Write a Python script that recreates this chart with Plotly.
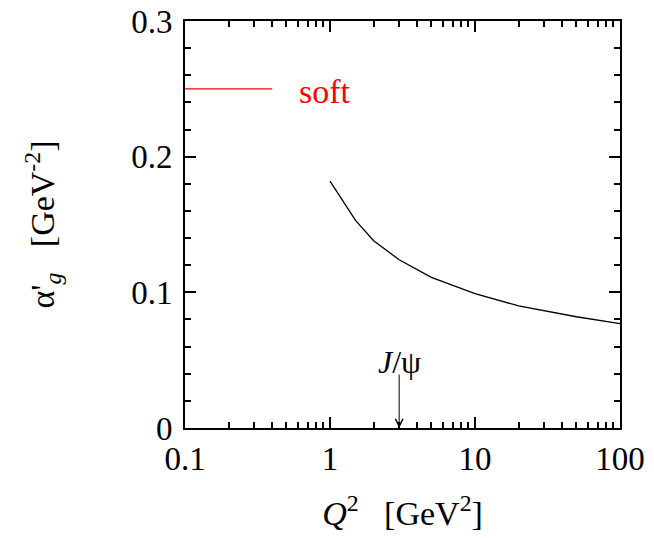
import math
import plotly.graph_objects as go

# Data
q2 = [1, 1.5, 2, 3, 5, 10, 20, 50, 100]
alpha_g = [0.182, 0.153, 0.138, 0.124, 0.111, 0.099, 0.090, 0.082, 0.077]
soft_x = [0.1, 0.4]
soft_y = [0.25, 0.25]
soft_label = "soft"
jpsi_q2 = 3
jpsi_label = "<i>J</i>/ψ"
x_ticks = [0.1, 1, 10, 100]
x_ticktext = ["0.1", "1", "10", "100"]
y_ticks = [0, 0.1, 0.2, 0.3]
y_ticktext = ["0", "0.1", "0.2", "0.3"]

FONT = "Liberation Serif, Times New Roman, serif"

fig = go.Figure()
fig.add_trace(go.Scatter(x=q2, y=alpha_g, mode="lines",
                         line=dict(color="black", width=1.3), showlegend=False))
fig.add_trace(go.Scatter(x=soft_x, y=soft_y, mode="lines",
                         line=dict(color="red", width=1.3), showlegend=False))

fig.add_annotation(x=math.log10(0.92), y=0.248, xref="x", yref="y",
                   text=soft_label, showarrow=False,
                   font=dict(family=FONT, size=34, color="red"))
# J/psi arrow
fig.add_annotation(x=math.log10(jpsi_q2), y=0, ax=math.log10(jpsi_q2), ay=0.0405,
                   xref="x", yref="y", axref="x", ayref="y", text="",
                   showarrow=True, arrowhead=5, arrowsize=1.5, arrowwidth=1,
                   arrowcolor="black")
fig.add_annotation(x=math.log10(jpsi_q2), y=0.049, xref="x", yref="y",
                   text=jpsi_label, showarrow=False, yanchor="middle",
                   font=dict(family=FONT, size=32, color="black"))

axis_style = dict(showline=True, linecolor="black", linewidth=2, mirror="allticks",
                  ticks="inside", ticklen=11, tickwidth=2.2, tickcolor="black",
                  showgrid=False, zeroline=False, ticklabeloverflow="allow",
                  tickfont=dict(family=FONT, size=33, color="black"))

fig.update_layout(
    template="none",
    width=646, height=530, plot_bgcolor="white", paper_bgcolor="white",
    margin=dict(l=177, r=34, t=13, b=110), showlegend=False,
    xaxis=dict(type="log", range=[-1, 2], tickmode="array",
               tickvals=x_ticks, ticktext=x_ticktext,
               minor=dict(dtick="D1", ticks="inside", ticklen=6, tickwidth=2.2,
                          tickcolor="black", showgrid=False),
               title=dict(text="<i>Q</i><sup>2</sup>   [GeV<sup>2</sup>]",
                          font=dict(family=FONT, size=34, color="black"), standoff=26),
               **axis_style),
    yaxis=dict(range=[0, 0.3], tickmode="array",
               tickvals=y_ticks, ticktext=y_ticktext, ticklabelstandoff=4,
               minor=dict(dtick=0.02, tick0=0, ticks="inside", ticklen=6, tickwidth=2.2,
                          tickcolor="black", showgrid=False),
               title=dict(text="α'<sub><i>g</i></sub>   [GeV<sup>-2</sup>]",
                          font=dict(family=FONT, size=34, color="black"), standoff=66),
               **axis_style),
)

fig.write_html("out.html")
